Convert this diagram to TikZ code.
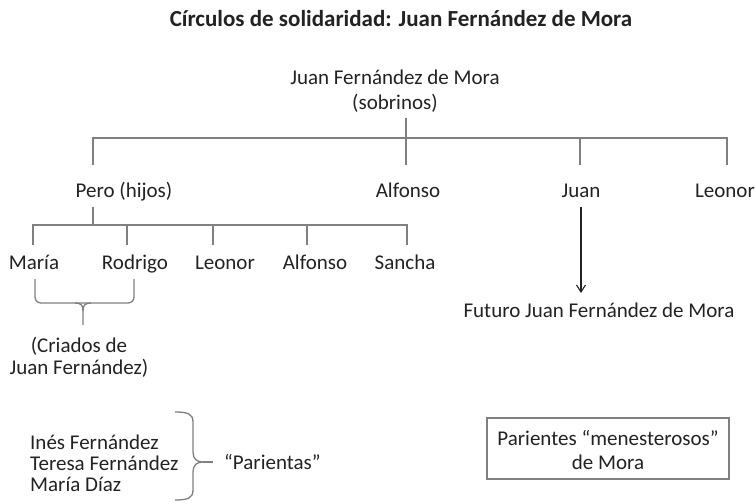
\documentclass[tikz,border=0pt]{standalone}
\usepackage{fontspec}
\setmainfont{Carlito}
\usetikzlibrary{arrows.meta}
\definecolor{txt}{HTML}{222222}
\definecolor{ln}{HTML}{808080}
\begin{document}
\begin{tikzpicture}[x=1pt,y=-1pt,
  lbl/.style={text=txt,font=\fontsize{21}{24}\selectfont,inner sep=0pt,align=center,anchor=base},
  tree/.style={draw=ln,line width=1.5pt},
  brk/.style={draw=ln,line width=1.3pt},
  arr/.style={draw=txt,line width=1.1pt,-{Straight Barb[length=7pt,width=9pt,line width=1.1pt]}},
  boxed/.style={draw=ln,line width=1.3pt,minimum width=242pt,minimum height=61pt,inner sep=0pt}]
\useasboundingbox (0,0) rectangle (756,504);
% title
\node[text=txt,font=\fontsize{23}{27}\selectfont\bfseries,inner sep=0pt,anchor=base] (title) at (401,26) {Círculos de solidaridad: Juan Fernández de Mora};
% texts (base anchor = baseline of last line)
\node[lbl,font=\fontsize{21}{25}\selectfont] (root) at (395,109) {Juan Fernández de Mora\\(sobrinos)};
\node[lbl] (pero) at (124,197) {Pero (hijos)};
\node[lbl] (alf) at (408,197) {Alfonso};
\node[lbl] (juan) at (581,197) {Juan};
\node[lbl] (leo) at (725,197) {Leonor};
\node[lbl] (maria) at (34,269) {María};
\node[lbl] (rod) at (135,269) {Rodrigo};
\node[lbl] (leo2) at (225,269) {Leonor};
\node[lbl] (alf2) at (315,269) {Alfonso};
\node[lbl] (san) at (405,269) {Sancha};
\node[lbl,font=\fontsize{21}{22}\selectfont] (criados) at (79,374) {(Criados de\\Juan Fernández)};
\node[lbl] (futuro) at (599,317) {Futuro Juan Fernández de Mora};
\node[lbl,anchor=base west] (ines) at (30,449) {Inés Fernández};
\node[lbl,anchor=base west] (teresa) at (30,470) {Teresa Fernández};
\node[lbl,anchor=base west] (mdiaz) at (30,491) {María Díaz};
\node[lbl,anchor=base west] (parientas) at (224,469) {“Parientas”};
\node[boxed] (box) at (608,448.5) {};
\node[lbl,font=\fontsize{21}{24}\selectfont] (boxtxt) at (608,469) {Parientes “menesterosos”\\de Mora};
% top tree
\coordinate (rt) at (406,118);
\coordinate (j1) at (406,138);
\coordinate (rb) at (406,165);
\coordinate (pt) at (93,165);
\coordinate (jt) at (580,165);
\coordinate (lt) at (727,165);
\draw[tree] (rt) -- (rb);
\draw[tree] (pt) |- (j1) -| (lt);
\draw[tree] (j1) -| (jt);
% Pero subtree
\coordinate (pb) at (93,207);
\coordinate (j2) at (93,225);
\coordinate (mt) at (33,245);
\coordinate (rdt) at (127,245);
\coordinate (l2t) at (213,245);
\coordinate (a2t) at (307,245);
\coordinate (st) at (407,245);
\draw[tree] (pb) -- (j2);
\draw[tree] (mt) |- (j2) -| (st);
\draw[tree] (j2) -| (rdt);
\draw[tree] (j2) -| (l2t);
\draw[tree] (j2) -| (a2t);
% bracket under María / Rodrigo
\coordinate (bL) at (35,279);
\coordinate (bR) at (134,279);
\coordinate (bM) at (83,303);
\coordinate (bT) at (83,325);
\draw[brk,rounded corners=6pt] (bL) |- (bM) -| (bR);
\draw[brk] (75,303) .. controls (81,303) and (83,305) .. (83,311) -- (bT);
\draw[brk] (91,303) .. controls (85,303) and (83,305) .. (83,311);
% Juan arrow
\coordinate (at) at (581,207);
\coordinate (ab) at (581,293);
\draw[arr] (at) -- (ab);
% brace Parientas
\coordinate (bb) at (203,462);
\coordinate (bbe) at (213,462);
\draw[brk] (175,412) .. controls (188,412) and (193,414) .. (193,422) -- (193,452)
  .. controls (193,459) and (197,462) .. (bb)
  .. controls (197,462) and (193,465) .. (193,472) -- (193,490)
  .. controls (193,498) and (188,500) .. (175,500);
\draw[brk] (bb) -- (bbe);
\end{tikzpicture}
\end{document}
